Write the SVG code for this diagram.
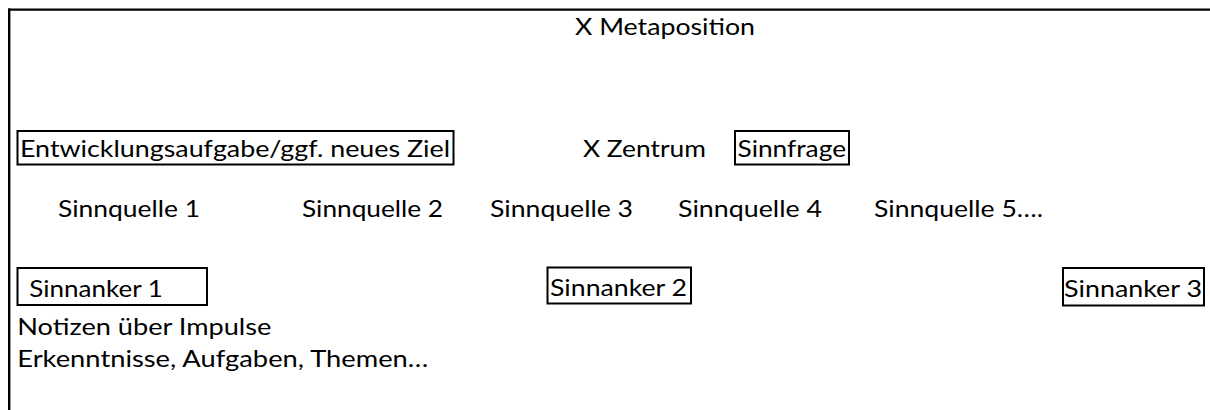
<svg xmlns="http://www.w3.org/2000/svg" width="1210" height="410" viewBox="0 0 1210 410">
  <style>
    .t { font-family: Lato, "Open Sans", "Liberation Sans", sans-serif; font-size: 24px; fill: #000; }
    .box { fill: #fff; stroke: #000; stroke-width: 2; }
    .frame { stroke: #000; stroke-width: 2.4; fill: none; }
  </style>
  <rect x="0" y="0" width="1210" height="410" fill="#fff"/>

  <!-- page frame: top rule and left rule -->
  <g id="frame">
    <line class="frame" x1="8" y1="9.6" x2="1210" y2="9.6"/>
    <line class="frame" x1="9.2" y1="8.4" x2="9.2" y2="410"/>
  </g>

  <g id="metaposition">
    <text class="t" x="575" y="35" textLength="180" lengthAdjust="spacingAndGlyphs">X Metaposition</text>
  </g>

  <g id="entwicklungsaufgabe">
    <rect class="box" x="17.5" y="131" width="436" height="33.5"/>
    <text class="t" x="20" y="157" textLength="430" lengthAdjust="spacingAndGlyphs">Entwicklungsaufgabe/ggf. neues Ziel</text>
  </g>

  <g id="zentrum">
    <text class="t" x="583" y="157" textLength="123" lengthAdjust="spacingAndGlyphs">X Zentrum</text>
  </g>

  <g id="sinnfrage">
    <rect class="box" x="735" y="131" width="114" height="33.5"/>
    <text class="t" x="737.5" y="157" textLength="108.5" lengthAdjust="spacingAndGlyphs">Sinnfrage</text>
  </g>

  <g id="sinnquelle-1">
    <text class="t" x="58" y="216.5" textLength="142" lengthAdjust="spacingAndGlyphs">Sinnquelle 1</text>
  </g>
  <g id="sinnquelle-2">
    <text class="t" x="302" y="216.5" textLength="141" lengthAdjust="spacingAndGlyphs">Sinnquelle 2</text>
  </g>
  <g id="sinnquelle-3">
    <text class="t" x="490" y="216.5" textLength="143" lengthAdjust="spacingAndGlyphs">Sinnquelle 3</text>
  </g>
  <g id="sinnquelle-4">
    <text class="t" x="678" y="216.5" textLength="144" lengthAdjust="spacingAndGlyphs">Sinnquelle 4</text>
  </g>
  <g id="sinnquelle-5">
    <text class="t" x="874" y="216.5" textLength="169" lengthAdjust="spacingAndGlyphs">Sinnquelle 5….</text>
  </g>

  <g id="sinnanker-1">
    <rect class="box" x="17.5" y="268" width="189.5" height="37"/>
    <text class="t" x="29.3" y="296.5" textLength="133.5" lengthAdjust="spacingAndGlyphs">Sinnanker 1</text>
  </g>
  <g id="sinnanker-2">
    <rect class="box" x="547.5" y="267.5" width="143.5" height="36"/>
    <text class="t" x="550" y="296" textLength="137" lengthAdjust="spacingAndGlyphs">Sinnanker 2</text>
  </g>
  <g id="sinnanker-3">
    <rect class="box" x="1063" y="268" width="141" height="37.5"/>
    <text class="t" x="1064" y="296.5" textLength="138" lengthAdjust="spacingAndGlyphs">Sinnanker 3</text>
  </g>

  <g id="notizen">
    <text class="t" x="17.3" y="335" textLength="254" lengthAdjust="spacingAndGlyphs">Notizen über Impulse</text>
    <text class="t" x="17.3" y="367" textLength="411" lengthAdjust="spacingAndGlyphs">Erkenntnisse, Aufgaben, Themen…</text>
  </g>

  <!-- no connectors in this layout -->
  <g id="connectors"/>
</svg>
